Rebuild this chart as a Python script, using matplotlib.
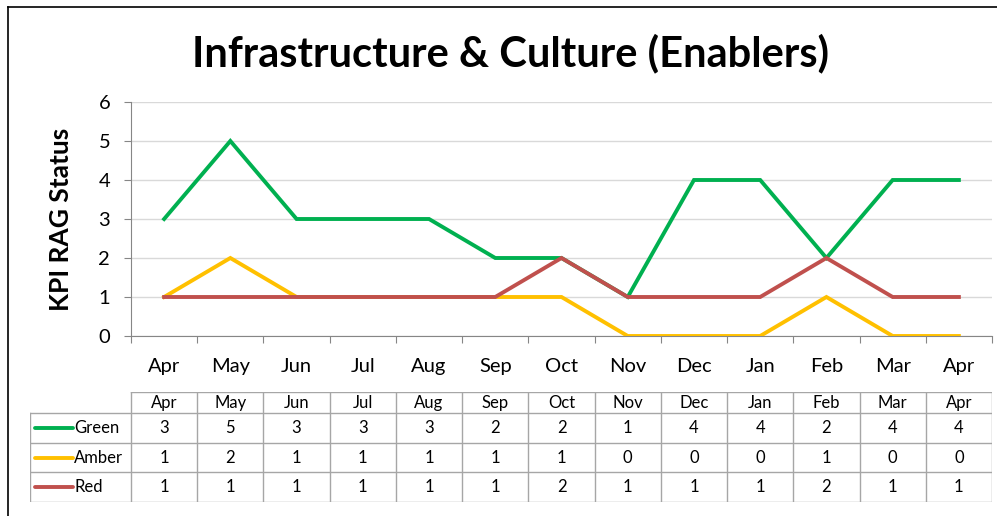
import matplotlib.pyplot as plt
from matplotlib.lines import Line2D

months = ['Apr', 'May', 'Jun', 'Jul', 'Aug', 'Sep', 'Oct', 'Nov', 'Dec', 'Jan', 'Feb', 'Mar', 'Apr']
green = [3, 5, 3, 3, 3, 2, 2, 1, 4, 4, 2, 4, 4]
amber = [1, 2, 1, 1, 1, 1, 1, 0, 0, 0, 1, 0, 0]
red = [1, 1, 1, 1, 1, 1, 2, 1, 1, 1, 2, 1, 1]

series = [('Green', green, '#00B050'), ('Amber', amber, '#FFC000'), ('Red', red, '#C0504D')]

plt.rcParams['font.family'] = ['Lato', 'DejaVu Sans']

W, H = 997, 516
fig = plt.figure(figsize=(W / 100, H / 100), dpi=100)

def px(x0, y0, x1, y1):
    return [x0 / W, 1 - y1 / H, (x1 - x0) / W, (y1 - y0) / H]

# outer frame (left + top visible)
fig.add_artist(Line2D([8 / W, 8 / W], [0, 1 - 7 / H], transform=fig.transFigure, color='black', lw=1.2))
fig.add_artist(Line2D([8 / W, 1], [1 - 7 / H, 1 - 7 / H], transform=fig.transFigure, color='black', lw=1.2))

ax = fig.add_axes(px(131, 102, 992, 336))
x = list(range(len(months)))
for name, vals, col in series:
    ax.plot(x, vals, color=col, lw=2.8, solid_joinstyle='miter', zorder=3)

ax.set_xlim(-0.5, len(months) - 0.5)
ax.set_ylim(0, 6)
ax.set_yticks(range(7))
ax.yaxis.grid(True, color='#d9d9d9', lw=1)
ax.set_axisbelow(True)
ax.set_xticks([i - 0.5 for i in range(len(months) + 1)])
ax.set_xticklabels([])
ax.set_xticks(x, minor=True)
ax.set_xticklabels(months, minor=True, fontsize=14.5)
ax.tick_params(axis='x', which='minor', length=0, pad=16)
ax.tick_params(axis='x', which='major', length=5, color='#868686')
ax.tick_params(axis='y', length=5, color='#868686', labelsize=14.5, pad=10)
for s in ['top', 'right']:
    ax.spines[s].set_visible(False)
for s in ['left', 'bottom']:
    ax.spines[s].set_color('#868686')
ax.set_ylabel('KPI RAG Status', fontsize=19, fontweight='bold', labelpad=18)

fig.text(510 / W, 1 - 53 / H, 'Infrastructure & Culture (Enablers)', ha='center', va='center',
         fontsize=30, fontweight='bold')

# data table
tax = fig.add_axes(px(30, 392, 992, 502))
left = -0.5 - (131 - 30) / ((992 - 131) / len(months))
tax.set_xlim(left, len(months) - 0.5)
tax.set_ylim(0, 3.72)
tax.axis('off')
gc = '#a6a6a6'
n = len(months)
# horizontal lines
tax.plot([-0.5, n - 0.5], [3.72, 3.72], color=gc, lw=1)
for yy in [0, 1, 2, 3]:
    tax.plot([left, n - 0.5], [yy, yy], color=gc, lw=1)
# vertical lines
tax.plot([left, left], [0, 3], color=gc, lw=1)
for i in range(n + 1):
    tax.plot([i - 0.5, i - 0.5], [0, 3.72], color=gc, lw=1)
for i, m in enumerate(months):
    tax.text(i, 3.36, m, ha='center', va='center', fontsize=12)
for r, (name, vals, col) in enumerate(series):
    yc = 2.5 - r
    tax.plot([left + 0.08, left + 0.65], [yc, yc], color=col, lw=2.8, solid_capstyle='round')
    tax.text(left + 0.67, yc, name, ha='left', va='center', fontsize=12)
    for i, v in enumerate(vals):
        tax.text(i, yc, str(v), ha='center', va='center', fontsize=12)

fig.savefig('out.png', dpi=100)
